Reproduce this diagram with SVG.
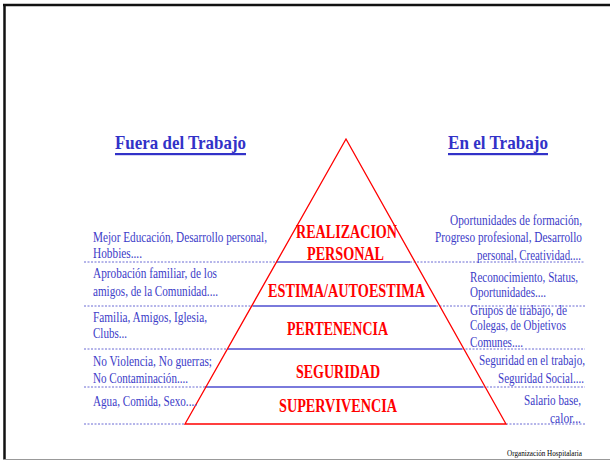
<svg xmlns="http://www.w3.org/2000/svg" width="610" height="461" viewBox="0 0 610 461">
  <style>
    .side { font-family: "Liberation Serif", "Times New Roman", serif; font-size: 14px; fill: #3c3cc8; }
    .head { font-family: "Liberation Serif", "Times New Roman", serif; font-size: 19px; font-weight: bold; fill: #3232c8; }
    .lvl { font-family: "Liberation Serif", "Times New Roman", serif; font-size: 18px; font-weight: bold; fill: #ff0000; }
    .dash { stroke: #6a6ad4; stroke-width: 1; stroke-dasharray: 2 1.5; fill: none; }
    .sep { stroke: #7a7adc; stroke-width: 2; fill: none; }
    .foot { font-family: "Liberation Serif", "Times New Roman", serif; font-size: 9px; fill: #000; }
  </style>

  <rect width="610" height="461" fill="#ffffff"/>
  <!-- slide frame -->
  <line x1="3" y1="5" x2="610" y2="5" stroke="#111" stroke-width="2.5"/>
  <line x1="4.5" y1="4" x2="4.5" y2="459" stroke="#111" stroke-width="2.5"/>
  <line x1="3" y1="459.5" x2="610" y2="459.5" stroke="#999" stroke-width="1"/>

  <!-- column headings -->
  <g id="heading-left">
    <text class="head" x="115" y="149" textLength="131" lengthAdjust="spacingAndGlyphs">Fuera del Trabajo</text>
    <rect x="115" y="153" width="131" height="2.2" fill="#3232c8"/>
  </g>
  <g id="heading-right">
    <text class="head" x="448" y="149" textLength="100" lengthAdjust="spacingAndGlyphs">En el Trabajo</text>
    <rect x="448" y="153" width="100" height="2.2" fill="#3232c8"/>
  </g>

  <!-- dividers between levels -->
  <g id="connectors">
    <line class="dash" x1="84" y1="262" x2="276" y2="262"/>
    <line class="dash" x1="410" y1="262" x2="585" y2="262"/>
    <line class="sep" x1="276" y1="262" x2="410" y2="262"/>

    <line class="dash" x1="84" y1="306" x2="253" y2="306"/>
    <line class="dash" x1="436" y1="306" x2="585" y2="306"/>
    <line class="sep" x1="253" y1="306" x2="436" y2="306"/>

    <line class="dash" x1="84" y1="349" x2="228" y2="349"/>
    <line class="dash" x1="462" y1="349" x2="585" y2="349"/>
    <line class="sep" x1="228" y1="349" x2="462" y2="349"/>

    <line class="dash" x1="84" y1="387" x2="205" y2="387"/>
    <line class="dash" x1="483" y1="387" x2="585" y2="387"/>
    <line class="sep" x1="205" y1="387" x2="483" y2="387"/>

    <line class="dash" x1="84" y1="424" x2="185" y2="424"/>
    <line class="dash" x1="506" y1="424" x2="585" y2="424"/>
  </g>

  <!-- pyramid outline -->
  <polygon id="pyramid" points="346,139 185,424 506,424" fill="none" stroke="#ff0000" stroke-width="1.3"/>

  <g id="realizacion">
    <text class="lvl" x="296" y="238" textLength="101" lengthAdjust="spacingAndGlyphs">REALIZACION</text>
    <text class="lvl" x="307" y="260" textLength="77" lengthAdjust="spacingAndGlyphs">PERSONAL</text>
    <text class="side" x="93" y="242" textLength="174" lengthAdjust="spacingAndGlyphs">Mejor Educación, Desarrollo personal,</text>
    <text class="side" x="93" y="258" textLength="49" lengthAdjust="spacingAndGlyphs">Hobbies....</text>
    <text class="side" x="450" y="225" textLength="132" lengthAdjust="spacingAndGlyphs">Oportunidades de formación,</text>
    <text class="side" x="435" y="242" textLength="147" lengthAdjust="spacingAndGlyphs">Progreso profesional, Desarrollo</text>
    <text class="side" x="477" y="260" textLength="104" lengthAdjust="spacingAndGlyphs">personal, Creatividad....</text>
  </g>

  <g id="estima">
    <text class="lvl" x="268" y="297" textLength="157" lengthAdjust="spacingAndGlyphs">ESTIMA/AUTOESTIMA</text>
    <text class="side" x="93" y="278" textLength="124" lengthAdjust="spacingAndGlyphs">Aprobación familiar, de los</text>
    <text class="side" x="93" y="296" textLength="125" lengthAdjust="spacingAndGlyphs">amigos, de la Comunidad....</text>
    <text class="side" x="470" y="282" textLength="108" lengthAdjust="spacingAndGlyphs">Reconocimiento, Status,</text>
    <text class="side" x="470" y="297" textLength="76" lengthAdjust="spacingAndGlyphs">Oportunidades....</text>
  </g>

  <g id="pertenencia">
    <text class="lvl" x="287" y="335" textLength="101" lengthAdjust="spacingAndGlyphs">PERTENENCIA</text>
    <text class="side" x="93" y="322" textLength="114" lengthAdjust="spacingAndGlyphs">Familia, Amigos, Iglesia,</text>
    <text class="side" x="93" y="338" textLength="34" lengthAdjust="spacingAndGlyphs">Clubs...</text>
    <text class="side" x="470" y="315" textLength="97" lengthAdjust="spacingAndGlyphs">Grupos de trabajo,  de</text>
    <text class="side" x="470" y="330" textLength="96" lengthAdjust="spacingAndGlyphs">Colegas, de Objetivos</text>
    <text class="side" x="470" y="346.5" textLength="53" lengthAdjust="spacingAndGlyphs">Comunes....</text>
  </g>

  <g id="seguridad">
    <text class="lvl" x="296" y="378" textLength="84" lengthAdjust="spacingAndGlyphs">SEGURIDAD</text>
    <text class="side" x="93" y="366" textLength="119" lengthAdjust="spacingAndGlyphs">No Violencia, No guerras;</text>
    <text class="side" x="93" y="383" textLength="95" lengthAdjust="spacingAndGlyphs">No Contaminación....</text>
    <text class="side" x="479" y="365" textLength="106" lengthAdjust="spacingAndGlyphs">Seguridad en el trabajo,</text>
    <text class="side" x="498" y="383" textLength="86" lengthAdjust="spacingAndGlyphs">Seguridad Social....</text>
  </g>

  <g id="supervivencia">
    <text class="lvl" x="279" y="412" textLength="118" lengthAdjust="spacingAndGlyphs">SUPERVIVENCIA</text>
    <text class="side" x="93" y="406" textLength="104" lengthAdjust="spacingAndGlyphs">Agua, Comida, Sexo....</text>
    <text class="side" x="524" y="405" textLength="57" lengthAdjust="spacingAndGlyphs">Salario base,</text>
    <text class="side" x="550" y="422.5" textLength="31" lengthAdjust="spacingAndGlyphs">calor...</text>
  </g>

  <text class="foot" x="507" y="456" textLength="75" lengthAdjust="spacingAndGlyphs">Organización Hospitalaria</text>
</svg>
